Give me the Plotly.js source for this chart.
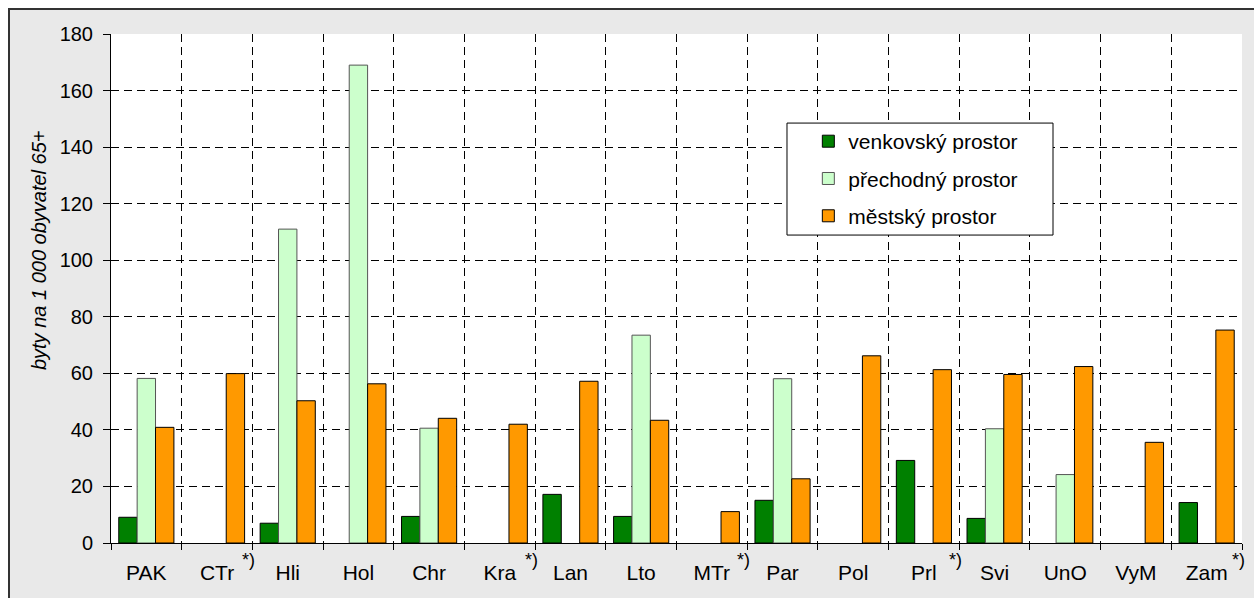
<!DOCTYPE html>
<html>
<head>
<meta charset="utf-8">
<script src="https://cdn.plot.ly/plotly-3.0.1.min.js"></script>
<style>
  html, body { margin: 0; padding: 0; background: #ffffff; }
  #frame { position: absolute; left: 8px; top: 8px; width: 1260px; height: 600px;
           background: #e9e9e9; border-left: 2px solid #333; border-top: 2px solid #333; box-sizing: border-box; }
  #chart { position: absolute; left: 0; top: 0; width: 1254px; height: 598px; }
</style>
</head>
<body>
<div id="frame"></div>
<div id="chart"></div>
<script>
const categories = ["PAK", "CTr", "Hli", "Hol", "Chr", "Kra", "Lan", "Lto", "MTr", "Par", "Pol", "Prl", "Svi", "UnO", "VyM", "Zam"];
const starred = ["CTr", "Kra", "MTr", "Prl", "Zam"];
const seriesNames = ["venkovský prostor", "přechodný prostor", "městský prostor"];
const venkovsky = [9.1, null, 7.0, null, 9.4, null, 17.2, 9.4, null, 15.1, null, 29.2, 8.7, null, null, 14.3];
const prechodny = [58.2, null, 111, 169, 40.6, null, null, 73.5, null, 58.1, null, null, 40.4, 24.2, null, null];
const mestsky = [40.9, 59.9, 50.3, 56.3, 44.1, 42.0, 57.2, 43.4, 11.1, 22.7, 66.2, 61.3, 59.6, 62.4, 35.6, 75.3];
const yTicks = [0, 20, 40, 60, 80, 100, 120, 140, 160, 180];
const yTitle = "byty na 1 000 obyvatel 65+";

const idx = categories.map((c, i) => i);
const FONT = "Liberation Sans, Arial, sans-serif";

function bar(name, vals, color, lineColor) {
  return {
    type: "bar", name: name, x: idx, y: vals, legendgroup: name,
    marker: { color: color, line: { color: lineColor, width: 1 } },
    hoverinfo: "x+y"
  };
}
const data = [
  bar(seriesNames[0], venkovsky, "#008000", "#000000"),
  bar(seriesNames[1], prechodny, "#ccffcc", "#555555"),
  bar(seriesNames[2], mestsky, "#ff9900", "#000000")
];

const annotations = categories.map((c, i) => starred.includes(c) ? {
  x: i + 0.45, xref: "x", y: -0.034, yref: "paper", text: "*)", showarrow: false,
  xanchor: "center", yanchor: "middle", font: { family: FONT, size: 18, color: "#000" }
} : null).filter(a => a);
annotations.push({
  x: -0.063, xref: "paper", y: 0.575, yref: "paper", text: yTitle, textangle: -90,
  showarrow: false, xanchor: "center", yanchor: "middle",
  font: { family: FONT, size: 20, color: "#000", style: "italic" }
});

const layout = {
  width: 1254, height: 598,
  margin: { l: 111, r: 12, t: 34, b: 55, pad: 0 },
  paper_bgcolor: "rgba(0,0,0,0)", plot_bgcolor: "#ffffff",
  font: { family: FONT, size: 21, color: "#000" },
  barmode: "group", bargap: 0.22, bargroupgap: 0,
  showlegend: true,
  legend: {
    x: 0.598, y: 0.829, xanchor: "left", yanchor: "top",
    bgcolor: "rgba(0,0,0,0)", borderwidth: 0,
    font: { family: FONT, size: 21, color: "#000" },
    traceorder: "grouped", tracegroupgap: 7, indentation: 21
  },
  shapes: [{
    type: "rect", xref: "paper", yref: "paper",
    x0: 0.5977, x1: 0.8329, y0: 0.605, y1: 0.825,
    fillcolor: "#ffffff", line: { color: "#000000", width: 1 }, layer: "above"
  }],
  xaxis: {
    range: [-0.5, 15.5], tickvals: idx, ticktext: categories, ticks: "",
    showgrid: false, zeroline: false, showline: true, linecolor: "#000", linewidth: 1,
    tickfont: { family: FONT, size: 21, color: "#000" }, ticklabelstandoff: 11,
    minor: { tick0: -0.5, dtick: 1, ticks: "outside", ticklen: 6, tickcolor: "#000",
             showgrid: true, gridcolor: "#000", gridwidth: 1, griddash: "8px,5px" }
  },
  yaxis: {
    range: [0, 180], tickvals: yTicks, ticks: "outside", ticklen: 7, tickcolor: "#000",
    showgrid: true, gridcolor: "#000", gridwidth: 1, griddash: "8px,5px",
    zeroline: false, showline: true, linecolor: "#000", linewidth: 1,
    tickfont: { family: FONT, size: 20, color: "#000" }, ticklabelstandoff: 6
  },
  annotations: annotations
};

Plotly.newPlot("chart", data, layout, { staticPlot: true });
</script>
</body>
</html>
